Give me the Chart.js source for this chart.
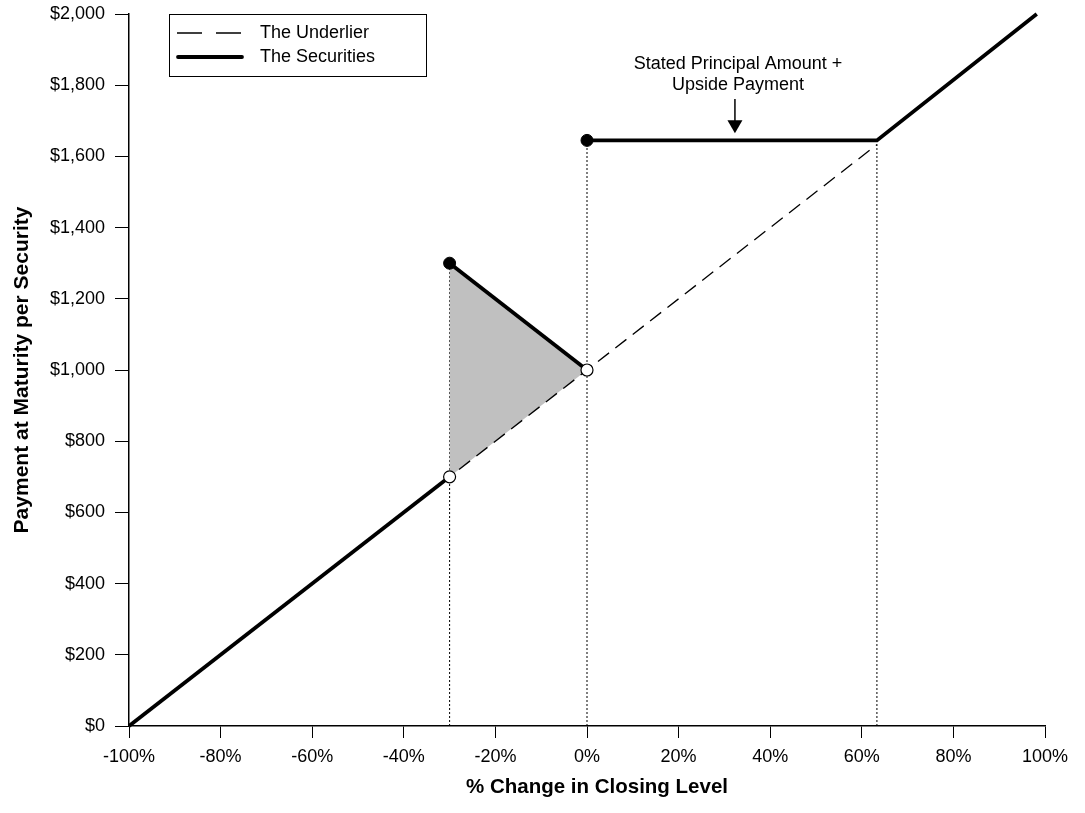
<!DOCTYPE html>
<html>
<head>
<meta charset="utf-8">
<script src="https://cdn.jsdelivr.net/npm/chart.js@4.4.1/dist/chart.umd.min.js"></script>
<style>
  html, body { margin: 0; padding: 0; background: #fff; }
  #wrap { position: relative; width: 1085px; height: 813px; }
</style>
</head>
<body>
<div id="wrap"><canvas id="c"></canvas></div>
<script>
// ---- data ----
const xTicks = [-100, -80, -60, -40, -20, 0, 20, 40, 60, 80, 100];
const yTicks = [0, 200, 400, 600, 800, 1000, 1200, 1400, 1600, 1800, 2000];

// underlier (dashed) – beyond the cap knot it lies under the Securities line
const underlierX = [-100, 63.3];
const underlierY = [0, 1633];

const securitiesLowX = [-100, -30];
const securitiesLowY = [0, 700];
const securitiesMidX = [-30, 0];
const securitiesMidY = [1300, 1000];
const securitiesHighX = [0, 63.3, 98.2];
const securitiesHighY = [1645, 1645, 2000];

const shadeX = [-30, -30, 0, -30];
const shadeY = [700, 1300, 1000, 700];

const filledDotX = [-30, 0];
const filledDotY = [1300, 1645];
const openDotX = [-30, 0];
const openDotY = [700, 1000];

const guideX = [-30, 0, 63.3];
const guideTopY = [1300, 1645, 1645];

const noteLines = ["Stated Principal Amount +", "Upside Payment"];
const noteArrowX = 32.3;
const noteArrowFromY = 1761;
const noteArrowToY = 1665;

const legendLabels = ["The Underlier", "The Securities"];

const xTitle = "% Change in Closing Level";
const yTitle = "Payment at Maturity per Security";

// ---- helpers ----
const pts = (xs, ys) => xs.map((x, i) => ({ x: x, y: ys[i] }));
const FONT = "'Liberation Sans', Arial, sans-serif";

const datasets = [];
// markers on top
datasets.push({ label: 'open', data: pts(openDotX, openDotY), showLine: false,
  pointRadius: 6, pointBackgroundColor: '#fff', pointBorderColor: '#000', pointBorderWidth: 1.2, clip: false });
datasets.push({ label: 'filled', data: pts(filledDotX, filledDotY), showLine: false,
  pointRadius: 6, pointBackgroundColor: '#000', pointBorderColor: '#000', pointBorderWidth: 1, clip: false });
// securities
[[securitiesLowX, securitiesLowY], [securitiesMidX, securitiesMidY], [securitiesHighX, securitiesHighY]].forEach(p => {
  datasets.push({ label: 'sec', data: pts(p[0], p[1]), showLine: true, borderColor: '#000',
    borderWidth: 3.8, pointRadius: 0, fill: false, clip: false, borderCapStyle: 'butt', borderJoinStyle: 'miter', tension: 0 });
});
// underlier
datasets.push({ label: 'und', data: pts(underlierX, underlierY), showLine: true, borderColor: '#000',
  borderWidth: 1.3, borderDash: [14, 8], pointRadius: 0, fill: false, tension: 0 });
// shaded area
datasets.push({ label: 'shade', data: pts(shadeX, shadeY), showLine: true, borderWidth: 0,
  borderColor: 'rgba(0,0,0,0)', backgroundColor: '#c0c0c0', fill: 'shape', pointRadius: 0, tension: 0 });
// guide lines
guideX.forEach((gx, i) => {
  datasets.push({ label: 'guide', data: pts([gx, gx], [0, guideTopY[i]]), showLine: true, borderColor: '#000',
    borderWidth: 1, borderDash: [2, 2], pointRadius: 0, fill: false });
});

const overlay = {
  id: 'overlay',
  afterDatasetsDraw(chart) {
    const ctx = chart.ctx;
    const xs = chart.scales.x, ys = chart.scales.y;
    const area = chart.chartArea;
    ctx.save();
    // annotation arrow
    const ax = xs.getPixelForValue(noteArrowX);
    const ay0 = ys.getPixelForValue(noteArrowFromY);
    const ay1 = ys.getPixelForValue(noteArrowToY);
    ctx.strokeStyle = '#000';
    ctx.lineWidth = 1.5;
    ctx.beginPath();
    ctx.moveTo(ax, ay0);
    ctx.lineTo(ax, ay1 - 12);
    ctx.stroke();
    ctx.fillStyle = '#000';
    ctx.beginPath();
    ctx.moveTo(ax - 7.5, ay1 - 13);
    ctx.lineTo(ax + 7.5, ay1 - 13);
    ctx.lineTo(ax, ay1);
    ctx.closePath();
    ctx.fill();
    // annotation text
    ctx.font = '18px ' + FONT;
    ctx.textAlign = 'center';
    ctx.textBaseline = 'middle';
    ctx.fillText(noteLines[0], ax + 3, ay0 - 35);
    ctx.fillText(noteLines[1], ax + 3, ay0 - 14);

    // legend
    const lx = area.left + 40, ly = area.top;
    const lw = 257, lh = 62;
    ctx.fillStyle = '#fff';
    ctx.fillRect(lx, ly, lw, lh);
    ctx.lineWidth = 1;
    ctx.strokeStyle = '#000';
    ctx.strokeRect(lx + 0.5, ly + 0.5, lw, lh);
    // dashed sample
    ctx.lineWidth = 1.3;
    ctx.setLineDash([25, 14]);
    ctx.beginPath();
    ctx.moveTo(lx + 8, ly + 19);
    ctx.lineTo(lx + 74, ly + 19);
    ctx.stroke();
    ctx.setLineDash([]);
    ctx.lineWidth = 3.8;
    ctx.lineCap = 'round';
    ctx.beginPath();
    ctx.moveTo(lx + 9, ly + 43);
    ctx.lineTo(lx + 73, ly + 43);
    ctx.stroke();
    ctx.fillStyle = '#000';
    ctx.textAlign = 'left';
    ctx.textBaseline = 'middle';
    ctx.font = '18px ' + FONT;
    ctx.fillText(legendLabels[0], lx + 91, ly + 19);
    ctx.fillText(legendLabels[1], lx + 91, ly + 43);

    // x axis title (offset right of chart-area center as in reference)
    ctx.font = 'bold 20.5px ' + FONT;
    ctx.textAlign = 'center';
    ctx.textBaseline = 'middle';
    ctx.fillText(xTitle, (area.left + area.right) / 2 + 10, xs.bottom - 26);
    ctx.restore();
  }
};

new Chart(document.getElementById('c'), {
  type: 'scatter',
  data: { datasets: datasets },
  options: {
    responsive: true,
    maintainAspectRatio: false,
    animation: false,
    devicePixelRatio: 1,
    layout: { padding: { top: 14, right: 40, bottom: 0, left: 0 } },
    plugins: { legend: { display: false }, tooltip: { enabled: false } },
    elements: { line: { tension: 0 } },
    scales: {
      x: {
        type: 'linear', min: -100, max: 100,
        afterBuildTicks: s => { s.ticks = xTicks.map(v => ({ value: v })); },
        afterFit: s => { s.height = 87; s.paddingLeft = 0; s.paddingRight = 0; },
        ticks: { callback: v => v + '%', color: '#000', font: { family: FONT, size: 18 }, padding: 8, maxRotation: 0, autoSkip: false },
        grid: { drawOnChartArea: false, drawTicks: true, tickLength: 12, color: '#000', lineWidth: 1 },
        border: { display: true, color: '#000', width: 1.5 },
        title: { display: false, text: xTitle }
      },
      y: {
        type: 'linear', min: 0, max: 2000,
        afterBuildTicks: s => { s.ticks = yTicks.map(v => ({ value: v })); },
        afterFit: s => { s.width = 129; s.paddingTop = 0; s.paddingBottom = 0; },
        ticks: { callback: v => '$' + Number(v).toLocaleString('en-US'), color: '#000', font: { family: FONT, size: 18 }, padding: 10, autoSkip: false },
        grid: { drawOnChartArea: false, drawTicks: true, tickLength: 14, color: '#000', lineWidth: 1 },
        border: { display: true, color: '#000', width: 1.5 },
        title: { display: true, text: yTitle, color: '#000', font: { family: FONT, size: 21, weight: 'bold' }, padding: { top: 10, bottom: 0 } }
      }
    }
  },
  plugins: [overlay]
});
</script>
</body>
</html>
